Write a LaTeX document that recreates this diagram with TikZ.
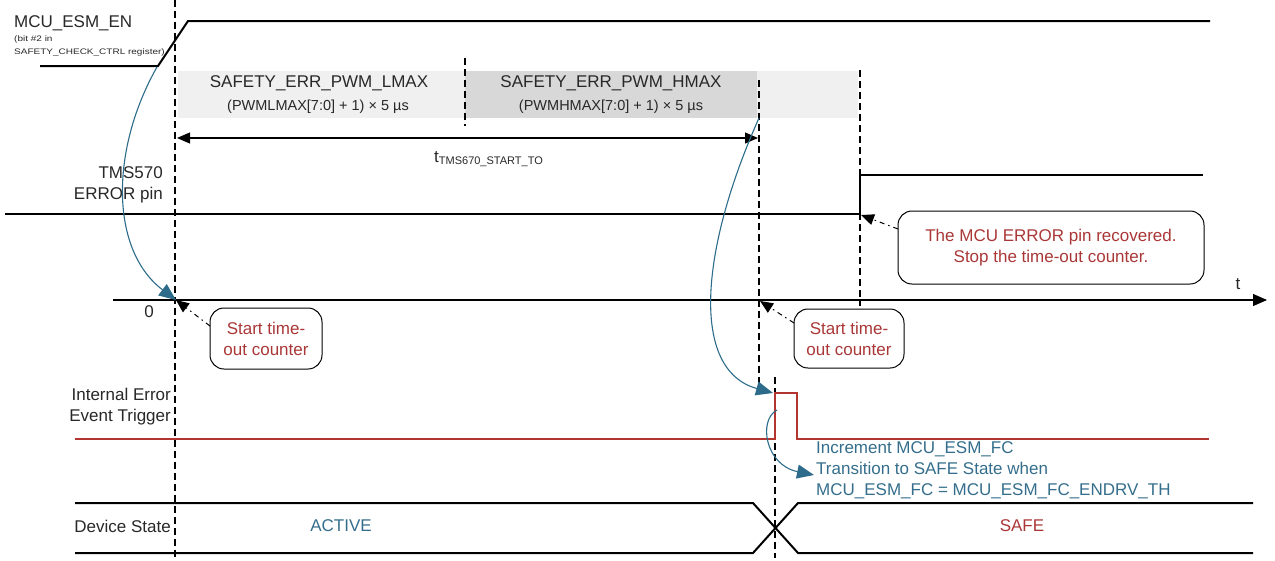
\documentclass[tikz,border=0pt]{standalone}
\usepackage{fontspec}
\setmainfont{Liberation Sans}
\usetikzlibrary{arrows.meta}
\definecolor{errred}{RGB}{170,55,55}
\definecolor{sigred}{RGB}{180,52,48}
\definecolor{txtblue}{RGB}{52,110,140}
\definecolor{arrblue}{RGB}{44,108,138}
\definecolor{boxlight}{RGB}{240,240,240}
\definecolor{boxdark}{RGB}{216,216,216}
\definecolor{txtgray}{RGB}{40,40,40}
\newcommand{\fsbig}{\fontsize{17}{21}\selectfont}
\newcommand{\fsmid}{\fontsize{14.5}{17}\selectfont}
\begin{document}
\begin{tikzpicture}[x=1pt,y=-1pt,
  sig/.style={line width=2pt,black},
  redsig/.style={line width=2pt,sigred},
  vdash/.style={line width=1.2pt,dash pattern=on 7pt off 4pt},
  lbl/.style={font=\fsbig,inner sep=0pt,align=right,text=txtgray},
  callout/.style={draw,line width=1pt,rounded corners=14pt,text=errred,align=center,font=\fsbig,inner sep=0pt},
  calloutarrow/.style={line width=1pt,dash pattern=on 5pt off 4pt on 1.5pt off 4pt,-{Triangle[length=13pt,width=11pt]}},
  bluearrow/.style={line width=1.1pt,draw=arrblue,-{Triangle[length=17pt,width=14pt,fill=arrblue]}},
  boxtitle/.style={font=\fsbig,text=txtgray,inner sep=0pt},
  boxsub/.style={font=\fsmid,text=txtgray,inner sep=0pt}]
\useasboundingbox (0,0) rectangle (1275,560);

% gray boxes
\fill[boxlight] (178,71) rectangle (465,118);
\fill[boxdark] (465,71) rectangle (757,118);
\fill[boxlight] (757,71) rectangle (858,118);
\node[boxtitle] (ltitle) at (319,83) {SAFETY\_ERR\_PWM\_LMAX};
\node[boxsub] (lsub) at (318,107) {(PWMLMAX[7:0] + 1) × 5 µs};
\node[boxtitle] (htitle) at (611,83) {SAFETY\_ERR\_PWM\_HMAX};
\node[boxsub] (hsub) at (611,107) {(PWMHMAX[7:0] + 1) × 5 µs};

% dashed verticals
\draw[vdash] (175,0) -- (175,558);
\draw[vdash] (465,58) -- (465,126);
\draw[vdash] (759,80) -- (759,390);
\draw[vdash] (860,70) -- (860,306);
\draw[vdash] (775,377) -- (775,558);

% MCU_ESM_EN
\node[anchor=base west,inner sep=0pt,font=\fsbig,text=txtgray] (mculbl) at (14,27) {MCU\_ESM\_EN};
\node[anchor=base west,inner sep=0pt,text=txtgray] (mcusub1) at (14,41) {\scalebox{1.25}[1]{\fontsize{8}{10}\selectfont (bit \#2 in}};
\node[anchor=base west,inner sep=0pt,text=txtgray] (mcusub2) at (14,54) {\scalebox{1.25}[1]{\fontsize{8}{10}\selectfont SAFETY\_CHECK\_CTRL register)}};
\draw[sig] (40,66) -- (158,66) -- (188,21) -- (1210,21);
\coordinate (enrise) at (157,67);

% timeout arrow
\coordinate (tstart) at (177,138);
\coordinate (tend) at (758,138);
\draw[line width=1.1pt,{Triangle[length=13pt,width=11pt]}-{Triangle[length=13pt,width=11pt]}] (tstart) -- (tend);
\node[anchor=base west,inner sep=0pt,font=\fsbig,text=txtgray] (tlabel) at (434,162) {t\raisebox{-2pt}{\fontsize{11}{11}\selectfont TMS670\_START\_TO}};

% TMS570 ERROR pin
\node[lbl,anchor=east] (errlbl) at (163,185) {TMS570\\ERROR pin};
\draw[sig] (5,214) -- (860,214) -- (860,175) -- (1203,175);
\coordinate (errstep) at (861,215);

% time axis
\coordinate (axl) at (113,300);
\coordinate (axr) at (1267,300);
\draw[line width=1.1pt,-{Triangle[length=14pt,width=12pt]}] (axl) -- (axr);
\node[font=\fsbig,inner sep=0pt,text=txtgray] (tax) at (1238,284) {t};
\node[font=\fsbig,inner sep=0pt,text=txtgray] (zero) at (149,312) {0};
\coordinate (t0) at (176,300);
\coordinate (t1) at (760,301);

% callouts
\node[callout,minimum width=112pt,minimum height=61pt] (c1) at (266,338.5) {Start time-\\out counter};
\node[callout,minimum width=110pt,minimum height=59pt] (c2) at (849,338.5) {Start time-\\out counter};
\node[callout,minimum width=306pt,minimum height=73pt] (c3) at (1051,247.5) {The MCU ERROR pin recovered.\\Stop the time-out counter.};
\draw[calloutarrow] (210,326) -- (t0);
\draw[calloutarrow] (794,323) -- (t1);
\draw[calloutarrow] (898,229) -- (errstep);

% internal error event trigger
\node[lbl,anchor=east] (ieelbl) at (171,406.5) {Internal Error\\Event Trigger};
\draw[redsig] (75,439) -- (775,439) -- (775,393) -- (797,393) -- (797,439) -- (1209,439);
\coordinate (pulse) at (773,393);
\coordinate (pulsel) at (777,410);
\node[anchor=north west,inner sep=0pt,font=\fsbig,text=txtblue,align=left] (inctxt) at (816,441) {Increment MCU\_ESM\_FC\\Transition to SAFE State when\\MCU\_ESM\_FC = MCU\_ESM\_FC\_ENDRV\_TH};
\coordinate (inctip) at (814,475);

% blue arrows
\coordinate (hboxc) at (759,118);
\draw[bluearrow] (enrise) .. controls (110,150) and (110,250) .. (t0);
\draw[bluearrow] (hboxc) .. controls (700,250) and (690,370) .. (pulse);
\draw[bluearrow] (pulsel) .. controls (758,420) and (765,465) .. (inctip);

% device state
\node[lbl,anchor=east] (dslbl) at (171,526) {Device State};
\draw[sig] (75,503) -- (753,503) -- (798,553) -- (1253,553);
\draw[sig] (75,553) -- (753,553) -- (798,503) -- (1253,503);
\node[font=\fsbig,inner sep=0pt,text=txtblue] (active) at (341,526) {ACTIVE};
\node[font=\fsbig,inner sep=0pt,text=errred] (safe) at (1022,526) {SAFE};
\end{tikzpicture}
\end{document}
